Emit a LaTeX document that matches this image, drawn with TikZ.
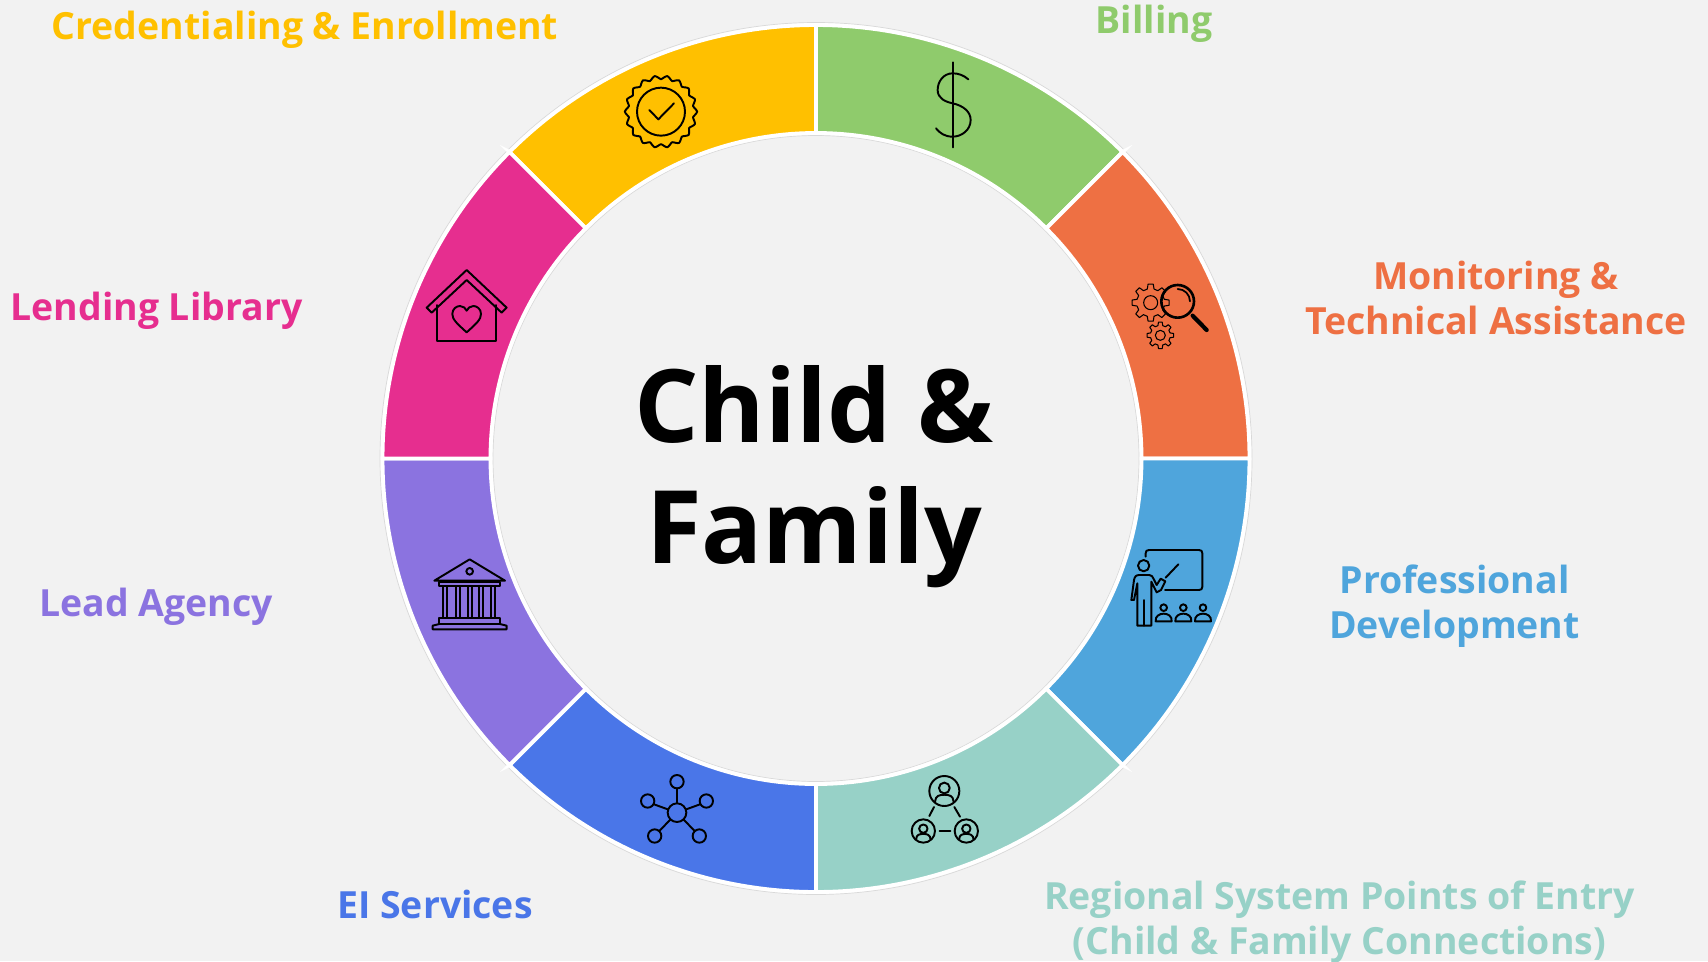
\documentclass[tikz,border=0pt]{standalone}
\usepackage{fontspec}
\setmainfont{Open Sans}
\definecolor{bgc}{HTML}{F2F2F2}
\definecolor{cyel}{HTML}{FFC000}
\definecolor{cgrn}{HTML}{8FCB6C}
\definecolor{corg}{HTML}{EE7043}
\definecolor{cblu}{HTML}{4FA5DC}
\definecolor{ctea}{HTML}{97D1C7}
\definecolor{croy}{HTML}{4A76E8}
\definecolor{cpur}{HTML}{8B73E0}
\definecolor{cpnk}{HTML}{E62E8F}
\newcommand{\segm}[3]{\fill[#3,draw=white,line width=2.2pt,line join=miter] (816,-458.5)+(#1:433.5) arc[start angle=#1,end angle=#2,radius=433.5] -- ++(0,0) -- ($(816,-458.5)+(#2:325.5)$) arc[start angle=#2,end angle=#1,radius=325.5] -- cycle;}
\newcommand{\mygear}[6]{\draw[icon thin] \foreach \k in {1,...,#6}{ \ifnum\k=1 ($(#1,#2)+({\k*360/#6-14}:#4)$) \else -- ($(#1,#2)+({\k*360/#6-14}:#4)$) \fi -- ($(#1,#2)+({\k*360/#6-8}:#3)$) -- ($(#1,#2)+({\k*360/#6+8}:#3)$) -- ($(#1,#2)+({\k*360/#6+14}:#4)$)} -- cycle; \draw[icon thin] (#1,#2) circle[radius=#5];}
\usetikzlibrary{calc}
\tikzset{
  lab/.style={font=\bfseries\fontsize{21.3pt}{25.5pt}\selectfont,align=center,anchor=center,inner sep=0pt},
  title/.style={font=\bfseries\fontsize{57.7pt}{69pt}\selectfont,align=center,anchor=center,inner sep=0pt,text=black},
  icon/.style={draw=black,line width=1.1pt,line join=round,line cap=round,fill=none},
  icon thin/.style={draw=black,line width=.6pt,line join=round,fill=none},
  zoomed/.style={x=.02cm/3,y=-.02cm/3}
}
\begin{document}
\begin{tikzpicture}[x=.02cm,y=.02cm]
\useasboundingbox (0,0) rectangle (1708,-961);
\fill[bgc] (0,0) rectangle (1708,-961);
\coordinate (c) at (816,-458.5);
\draw[gray!30,line width=.4pt] (c) circle[radius=436];
\draw[gray!30,line width=.4pt] (c) circle[radius=323];
\segm{90}{135}{cyel}
\segm{45}{90}{cgrn}
\segm{0}{45}{corg}
\segm{-45}{0}{cblu}
\segm{-90}{-45}{ctea}
\segm{-135}{-90}{croy}
\segm{-180}{-135}{cpur}
\segm{135}{180}{cpnk}
% labels
\node[lab,text=cyel] (t1) at (305,-30) {Credentialing \& Enrollment};
\node[lab,text=cgrn] (t2) at (1154,-24) {Billing};
\node[lab,text=corg] (t3) at (1496,-298) {Monitoring \&\\Technical Assistance};
\node[lab,text=cblu] (t4) at (1454.5,-606) {Professional\\Development};
\node[lab,text=ctea] (t5) at (1339.5,-922) {Regional System Points of Entry\\(Child \& Family Connections)};
\node[lab,text=croy] (t6) at (435,-904) {EI Services};
\node[lab,text=cpur] (t7) at (156,-607) {Lead Agency};
\node[lab,text=cpnk] (t8) at (156.5,-311) {Lending Library};
\node[title] (t0) at (814,-477) {Child \&\\Family};
% badge
\begin{scope}[shift={(600,-40)},zoomed]
\draw[icon] plot[smooth cycle,domain=0:355,samples=72] ({183+(103+5.5*cos(18*\x))*cos(\x)},{215+(103+5.5*cos(18*\x))*sin(\x)});
\draw[icon] (183,215) circle[radius=72];
\draw[icon] (148,210) -- (175,238) -- (222,190);
\draw[icon] (1058,67) -- (1058,322);
\draw[icon] (1105,118) .. controls (1090,105) and (1075,100) .. (1058,100) .. controls (1030,100) and (1013,125) .. (1013,150) .. controls (1013,175) and (1035,185) .. (1058,190) .. controls (1090,197) and (1112,215) .. (1112,240) .. controls (1112,270) and (1085,290) .. (1058,290) .. controls (1035,290) and (1020,280) .. (1008,265);
\end{scope}
% gears and lens
\begin{scope}[shift={(1100,-260)},zoomed]
\mygear{152}{128}{56}{42}{21}{8}
\mygear{181}{226}{40}{30}{15}{8}
\draw[icon,line width=1.5pt] (233,124) circle[radius=49];
\draw[icon,line width=1pt] (233,87) arc[start angle=-90,end angle=0,radius=37];
\draw[icon,line width=2.4pt] (278,167) -- (320,210);
\end{scope}
% trainer
\begin{scope}[shift={(1110,-530)},zoomed]
\draw[icon] (107,80) -- (107,70) .. controls (107,63) and (110,60) .. (117,60) -- (267,60) .. controls (274,60) and (277,63) .. (277,70) -- (277,170) .. controls (277,177) and (274,180) .. (267,180) -- (165,180);
\draw[icon] (205,103) -- (167,143);
\draw[icon] (101,107) circle[radius=17];
\draw[icon] (64,210) -- (72,150) .. controls (74,140) and (78,135) .. (88,135) -- (118,135) .. controls (125,135) and (128,140) .. (131,147) -- (140,165) -- (152,146) -- (166,154) -- (153,180) -- (140,187) -- (124,155) -- (124,287) -- (82,287) -- (82,160) -- (72,210) -- cycle;
\draw[icon] (103,210) -- (103,287);
\foreach \px in {161,220,279}{
\draw[icon] (\px,233) circle[radius=10];
\draw[icon] (\px-24,274) .. controls (\px-26,258) and (\px-12,251) .. (\px,251) .. controls (\px+12,251) and (\px+26,258) .. (\px+24,274) -- cycle;
}
\end{scope}
% people network
\begin{scope}[shift={(890,-760)},zoomed]
\foreach \cx/\cy/\rr in {163/93/45,100/213/35,229/213/35}{
\draw[icon] (\cx,\cy) circle[radius=\rr];
\draw[icon] (\cx,{\cy-.2*\rr}) circle[radius={.36*\rr}];
\draw[icon] ({\cx-.62*\rr},{\cy+.72*\rr}) .. controls ({\cx-.6*\rr},{\cy+.3*\rr}) and ({\cx-.3*\rr},{\cy+.25*\rr}) .. (\cx,{\cy+.25*\rr}) .. controls ({\cx+.3*\rr},{\cy+.25*\rr}) and ({\cx+.6*\rr},{\cy+.3*\rr}) .. ({\cx+.62*\rr},{\cy+.72*\rr});
}
\draw[icon] (132,141) -- (118,168);
\draw[icon] (193,141) -- (210,170);
\draw[icon] (149,213) -- (181,213);
\end{scope}
% hub
\begin{scope}[shift={(630,-765)},zoomed]
\coordinate (h0) at (141,143);
\foreach \sx/\sy/\ex/\ey in {141/50/141/70,53/108/72/118,229/108/210/118,74/213/88/198,208/213/194/198}{
\draw[icon] (\sx,\sy) circle[radius=20];
\draw[icon] (\ex,\ey) -- (h0);
}
\draw[icon,fill=croy] (h0) circle[radius=28];
\end{scope}
% bank
\begin{scope}[shift={(420,-550)},zoomed]
\draw[icon] (43,92) -- (149,28) -- (255,92) -- cycle;
\draw[icon] (149,64) circle[radius=10];
\draw[icon] (58,95) rectangle (240,108);
\foreach \cl in {70,107,143,178,214}{
\draw[icon] (\cl,108) rectangle (\cl+12,205);
}
\draw[icon] (58,205) -- (240,205) -- (240,222) -- (58,222) -- cycle;
\draw[icon] (58,222) -- (38,227) -- (38,238) -- (260,238) -- (260,227) -- (240,222);
\end{scope}
% house
\begin{scope}[shift={(415,-260)},zoomed]
\draw[icon] (35,143) -- (155,30) -- (275,143) -- (260,158) -- (155,60) -- (50,158) -- cycle;
\draw[icon] (67,135) -- (67,242) -- (243,242) -- (243,135);
\draw[icon] (155,217) .. controls (125,190) and (112,178) .. (112,162) .. controls (112,146) and (125,138) .. (135,138) .. controls (145,138) and (152,145) .. (155,152) .. controls (158,145) and (165,138) .. (175,138) .. controls (185,138) and (198,146) .. (198,162) .. controls (198,178) and (185,190) .. (155,217) -- cycle;
\end{scope}
\end{tikzpicture}
\end{document}
